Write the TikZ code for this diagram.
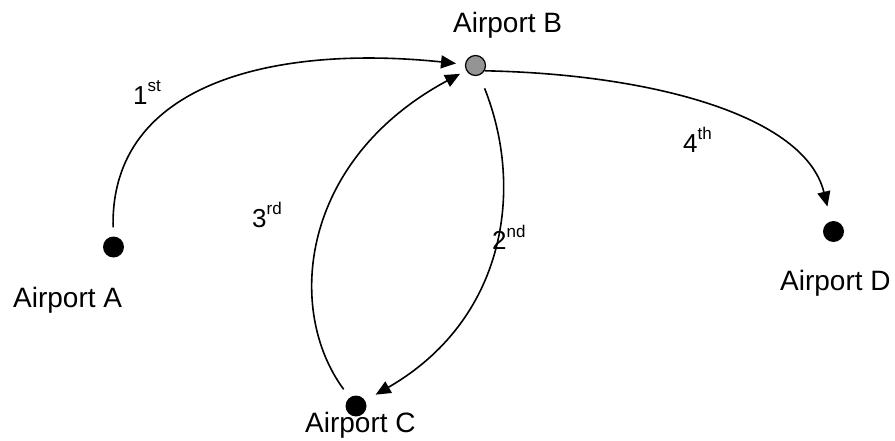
\documentclass[tikz,border=0pt]{standalone}
\usepackage{fontspec}
\setmainfont{Liberation Sans}
\usetikzlibrary{arrows.meta}
\newcommand\ordlab[2]{{\fontsize{26}{30}\selectfont #1\raisebox{13pt}{\fontsize{17}{17}\selectfont #2}}}
\tikzset{
  dot/.style={circle, fill=black, inner sep=0pt, minimum size=21pt},
  hub/.style={circle, draw=black, line width=1.2pt, fill=gray!95!black!80, inner sep=0pt, minimum size=20pt},
  place/.style={anchor=base west, inner sep=0pt, font=\fontsize{28}{34}\selectfont},
  ordinal/.style={anchor=base west, inner sep=0pt},
  route/.style={line width=1.6pt, -{Triangle[length=15pt,width=13pt]}},
}
\begin{document}
\begin{tikzpicture}[x=1pt,y=-1pt]
\useasboundingbox (0,0) rectangle (895,441);
\node[dot] (A) at (113.5,247) {};
\node[hub] (B) at (475.5,65.5) {};
\node[dot] (C) at (356,406) {};
\node[dot] (D) at (833.5,231.5) {};
\node[place] (la) at (13,307) {Airport A};
\node[place] (lb) at (453,33) {Airport B};
\node[place] (lc) at (305,432) {Airport C};
\node[place] (ld) at (780,290) {Airport D};
\node[ordinal] (o1) at (133,105) {\ordlab{1}{st}};
\node[ordinal] (o2) at (492,250) {\ordlab{2}{nd}};
\node[ordinal] (o3) at (252,227) {\ordlab{3}{rd}};
\node[ordinal] (o4) at (683,153) {\ordlab{4}{th}};
\draw[route, shorten <=9pt, shorten >=9pt] (A) .. controls (110,80) and (280,45) .. (B);
\draw[route, shorten <=14pt, shorten >=12pt] (B) .. controls (525,190) and (505,320) .. (C);
\draw[route, shorten <=10pt, shorten >=7pt] (C) .. controls (285,310) and (300,160) .. (B);
\draw[route, shorten >=15pt] (B.-30) .. controls (650,74) and (805,115) .. (D);
\end{tikzpicture}
\end{document}
